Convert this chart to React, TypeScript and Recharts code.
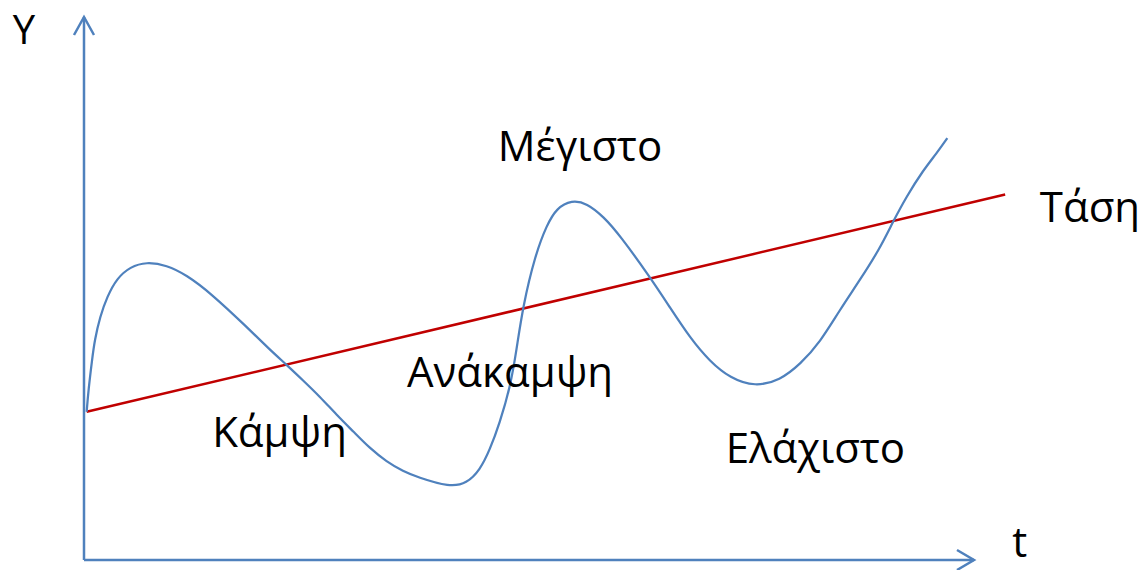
import React from 'react';
import { LineChart, Line, XAxis, YAxis, ReferenceLine, ReferenceDot } from 'recharts';

// cycle curve (t: 0..100 along the axis, Y: 0..100 up the axis)
const cycleT = [0.3, 0.5, 0.9, 1.2, 1.8, 2.6, 3.7, 5.2, 7.0, 9.3, 11.5, 14.2, 18.3, 20.9, 22.8, 24.6, 26.5, 28.4, 30.3, 32.1, 34.0, 35.9, 37.4, 41.1, 43.0, 44.5, 45.6, 46.7, 47.9, 48.6, 49.3, 50.7, 52.0, 53.1, 54.8, 56.5, 58.4, 60.2, 63.6, 65.8, 68.1, 70.3, 72.6, 75.4, 78.2, 80.5, 82.7, 84.9, 87.2, 89.4, 90.9, 92.4, 94.3, 95.8, 97.0];
const cycleY = [27.3, 31.3, 36.8, 40.5, 44.8, 48.5, 51.9, 54.0, 54.9, 54.3, 52.5, 49.2, 42.9, 38.7, 35.9, 33.1, 30.1, 26.7, 23.6, 20.6, 18.1, 16.3, 15.3, 13.4, 14.1, 16.6, 20.3, 25.2, 31.9, 38.7, 46.6, 56.2, 61.7, 64.8, 66.3, 65.7, 63.2, 59.8, 52.1, 46.6, 40.9, 36.6, 33.5, 31.9, 33.1, 36.1, 40.1, 46.0, 51.6, 57.3, 62.3, 66.9, 71.8, 74.9, 77.7];

// trend line (start / end)
const trendT = [0.3, 103.5];
const trendY = [27.3, 67.3];

const labels = ['Y', 'Μέγιστο', 'Ανάκαμψη', 'Κάμψη', 'Ελάχιστο', 'Τάση', 't'];
// where each label's baseline starts, in chart units
const labelAt = [
  { t: -8.0, y: 95.0 },
  { t: 46.5, y: 73.5 },
  { t: 36.3, y: 31.9 },
  { t: 14.4, y: 20.8 },
  { t: 72.1, y: 17.9 },
  { t: 107.4, y: 62.2 },
  { t: 104.3, y: 0.55 },
];

const cycleData = cycleT.map((t, i) => ({ t, y: cycleY[i] }));
const trendData = trendT.map((t, i) => ({ t, y: trendY[i] }));

const BLUE = '#4F81BD';
const RED = '#C00000';
const FONT = '"Open Sans", sans-serif';

const ArrowUp = (props: any) => {
  const { cx, cy } = props;
  return <path d={`M${cx - 10} ${cy + 18} L${cx} ${cy} L${cx + 10} ${cy + 18}`} fill="none" stroke={BLUE} strokeWidth={2.5} />;
};

const ArrowRight = (props: any) => {
  const { cx, cy } = props;
  return <path d={`M${cx - 17} ${cy - 10} L${cx} ${cy} L${cx - 17} ${cy + 10}`} fill="none" stroke={BLUE} strokeWidth={2.5} />;
};

const textShape = (text: string) => (props: any) => (
  <text x={props.cx} y={props.cy} fill="#000" fontSize={text === 'Y' ? 40 : 42} fontFamily={FONT} textAnchor="start">
    {text}
  </text>
);

export default function App() {
  return (
    <div style={{ position: 'absolute', left: 0, top: 0, width: 1140, height: 570, background: '#fff' }}>
      <LineChart width={1140} height={570} margin={{ top: 17, right: 1140 - 84 - 105 * 8.9, bottom: 10, left: 84 }}>
        <XAxis type="number" dataKey="t" domain={[0, 105]} hide />
        <YAxis type="number" dataKey="y" domain={[0, 100]} hide />

        {/* axes */}
        <ReferenceLine segment={[{ x: 0, y: 0 }, { x: 0, y: 100 }]} stroke={BLUE} strokeWidth={2.5} />
        <ReferenceLine segment={[{ x: 0, y: 0 }, { x: 100, y: 0 }]} stroke={BLUE} strokeWidth={2.5} />
        <ReferenceDot x={0} y={100} r={0} shape={ArrowUp} ifOverflow="visible" />
        <ReferenceDot x={100} y={0} r={0} shape={ArrowRight} ifOverflow="visible" />

        <Line data={trendData} dataKey="y" type="linear" stroke={RED} strokeWidth={2.5} dot={false} isAnimationActive={false} />
        <Line data={cycleData} dataKey="y" type="basis" stroke={BLUE} strokeWidth={2.25} dot={false} isAnimationActive={false} />

        {labels.map((txt, i) => (
          <ReferenceDot key={txt} x={labelAt[i].t} y={labelAt[i].y} r={0} shape={textShape(txt)} ifOverflow="visible" />
        ))}
      </LineChart>
    </div>
  );
}
